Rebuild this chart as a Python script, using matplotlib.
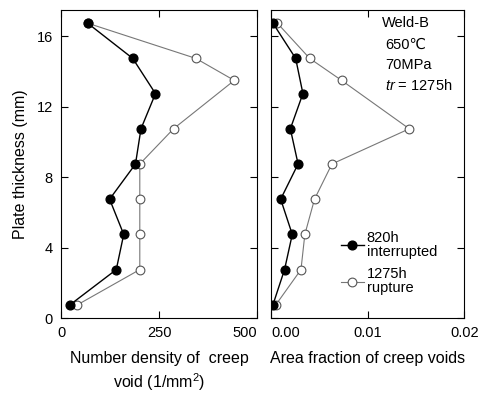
import matplotlib
matplotlib.use("Agg")
import matplotlib.pyplot as plt

plt.rcParams['font.family'] = ['Liberation Sans', 'DejaVu Sans']
plt.rcParams['mathtext.fontset'] = 'custom'
plt.rcParams['mathtext.rm'] = 'Liberation Sans'
plt.rcParams['mathtext.it'] = 'Liberation Sans:italic'

# data
y_int = [16.75, 14.75, 12.75, 10.75, 8.75, 6.75, 4.75, 2.75, 0.75]
y_rup = [16.75, 14.75, 13.5, 10.75, 8.75, 6.75, 4.75, 2.75, 0.75]
density_int = [68, 183, 241, 204, 190, 124, 160, 141, 23]
density_rup = [68, 344, 442, 287, 201, 201, 201, 201, 42]
area_int = [0.0002, 0.00255, 0.0033, 0.0020, 0.0028, 0.0010, 0.0022, 0.0014, 0.0002]
area_rup = [0.00066, 0.0040, 0.0073, 0.0143, 0.0063, 0.0045, 0.0035, 0.0031, 0.0005]

label_int = "820h\ninterrupted"
label_rup = "1275h\nrupture"

fig = plt.figure(figsize=(4.83, 3.97), dpi=100)
ax1 = fig.add_axes([61/483, 79/397, 196/483, 308/397])
ax2 = fig.add_axes([271/483, 79/397, 193.4/483, 308/397])

blk = dict(color='black', lw=1.0, marker='o', ms=6.3, mfc='black', mec='black')
opn = dict(color='#777777', lw=0.8, marker='o', ms=6.3, mfc='white', mec='#555555', mew=0.8)

ax1.plot(density_rup, y_rup, **opn, label=label_rup, zorder=2)
ax1.plot(density_int, y_int, **blk, label=label_int, zorder=3)
ax2.plot(area_rup, y_rup, **opn, label=label_rup, zorder=2, clip_on=True)
ax2.plot(area_int, y_int, **blk, label=label_int, zorder=3, clip_on=True)

for ax in (ax1, ax2):
    ax.set_ylim(0, 17.5)
    ax.set_yticks([0, 4, 8, 12, 16])
    ax.tick_params(direction='in', top=True, right=True, length=5, width=0.8,
                   labelsize=10.5, pad=6)
    for s in ax.spines.values():
        s.set_linewidth(0.8)

ax1.set_xlim(0, 500)
ax1.set_xticks([0, 250, 500])
ax1.set_xticklabels(['0', '250', '500'])
ax1.get_xticklabels()[2].set_horizontalalignment('right')
ax1.set_ylabel('Plate thickness (mm)', fontsize=11.5, labelpad=6)
ax1.set_xlabel('Number density of  creep\nvoid (1/mm$^2$)', fontsize=11.5,
               labelpad=8, linespacing=1.3)

ax2.set_xlim(0, 0.02)
ax2.set_xticks([0, 0.01, 0.02])
ax2.set_xticklabels(['0.00', '0.01', '0.02'])
ax2.get_xticklabels()[0].set_horizontalalignment('left')
ax2.tick_params(labelleft=False)
ax2.set_xlabel('Area fraction of creep voids', fontsize=11.5, labelpad=8)

ax2.text(0.572, 0.958, 'Weld-B', transform=ax2.transAxes, fontsize=10.5, va='center')
ax2.text(0.59, 0.886, '650\u2103', transform=ax2.transAxes, fontsize=10.5, va='center')
ax2.text(0.59, 0.821, '70MPa', transform=ax2.transAxes, fontsize=10.5, va='center')
ax2.text(0.59, 0.756, '$\\it{tr}$ = 1275h', transform=ax2.transAxes, fontsize=10.5, va='center')

h, l = ax2.get_legend_handles_labels()
leg = ax2.legend([h[1], h[0]], [l[1], l[0]], loc='lower left',
                 bbox_to_anchor=(0.36, 0.075), frameon=False, fontsize=10.5,
                 handlelength=1.6, handletextpad=0.2, labelspacing=0.6,
                 borderaxespad=0, borderpad=0)
for t in leg.get_texts():
    t.set_linespacing(0.95)

fig.savefig('out.png', dpi=100)
